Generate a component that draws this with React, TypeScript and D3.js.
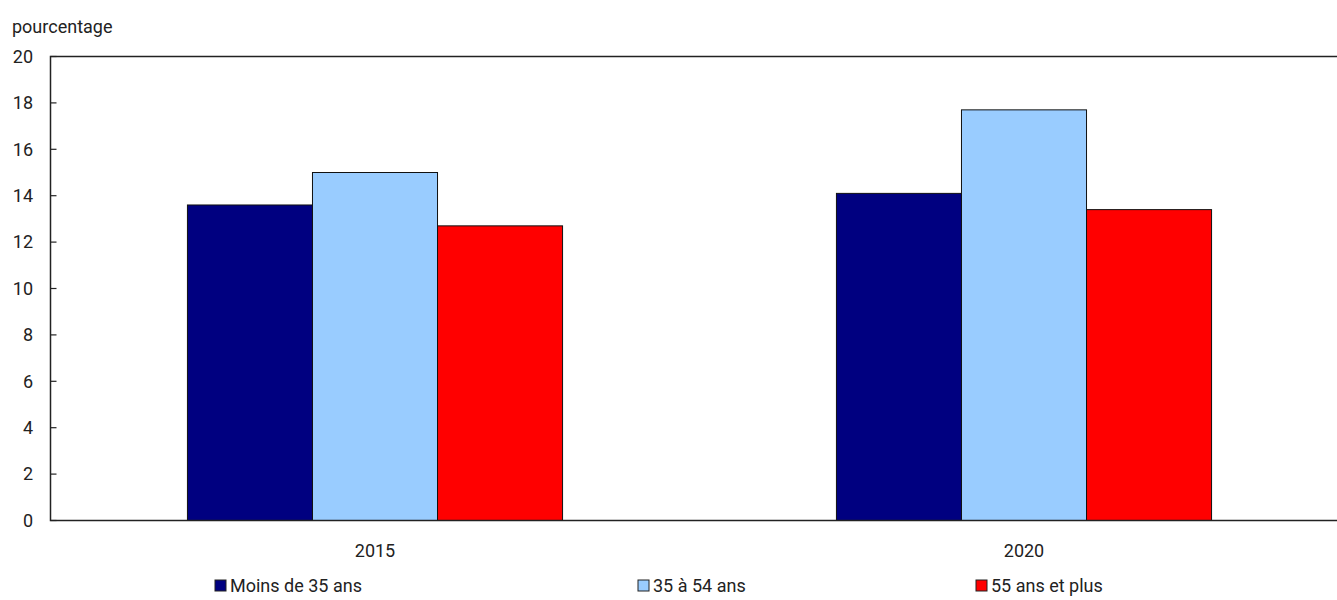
import * as d3 from 'd3';

const years = ['2015', '2020'];
const groups = ['Moins de 35 ans', '35 à 54 ans', '55 ans et plus'];
const colors = ['#000080', '#99CCFF', '#FF0000'];
const values: Record<string, number[]> = {
    'Moins de 35 ans': [13.6, 14.1],
    '35 à 54 ans': [15.0, 17.7],
    '55 ans et plus': [12.7, 13.4]
};
const yTicks = [0, 2, 4, 6, 8, 10, 12, 14, 16, 18, 20];
const legendX = [215, 638, 976];

const font = 'Roboto, "Liberation Sans", sans-serif';

function BarChart({
    width = 1337,
    height = 600,
    marginTop = 56.5,
    marginLeft = 50.5,
    plotWidth = 1298,
    plotBottom = 520.5
    }) {
    const x = d3.scaleBand(years, [marginLeft, marginLeft + plotWidth]);
    const inner = d3.scaleBand(groups, [0, x.bandwidth() * 0.578]);
    const y = d3.scaleLinear([0, 20], [plotBottom, marginTop]);
    const groupOffset = (x.bandwidth() - inner.range()[1]) / 2;

    return (
        <svg width={width} height={height} style={{ display: 'block', position: 'absolute', left: 0, top: 0 }}
            fontFamily={font}>
        <text x={12} y={33} fontSize={18} fill="#222">pourcentage</text>
        {groups.map((g, gi) => (
            <g key={g} fill={colors[gi]} stroke="#111" strokeWidth={1}>
            {years.map((yr, i) => (
                <rect key={yr}
                    x={(x(yr) ?? 0) + groupOffset + (inner(g) ?? 0)}
                    y={y(values[g][i])}
                    width={inner.bandwidth()}
                    height={y(0) - y(values[g][i])} />
            ))}
            </g>
        ))}
        <rect x={marginLeft} y={marginTop} width={plotWidth} height={plotBottom - marginTop}
            fill="none" stroke="#222" strokeWidth={1.5} />
        <g fontSize={18} fill="#222" textAnchor="end">
            {yTicks.map(t => (
            <g key={t}>
                <line x1={marginLeft} x2={marginLeft + 6} y1={y(t)} y2={y(t)} stroke="#222" strokeWidth={1.2} />
                <text x={33} y={y(t)} dy="0.35em">{t}</text>
            </g>
            ))}
        </g>
        <g fontSize={18} fill="#222" textAnchor="middle">
            {years.map(yr => (
            <text key={yr} x={(x(yr) ?? 0) + x.bandwidth() / 2} y={557}>{yr}</text>
            ))}
        </g>
        <g fontSize={18} fill="#222">
            {groups.map((g, gi) => (
            <g key={g} transform={`translate(${legendX[gi]},580)`}>
                <rect x={0} y={0} width={11} height={11} fill={colors[gi]} stroke="#222" strokeWidth={1} />
                <text x={15} y={12}>{g}</text>
            </g>
            ))}
        </g>
        </svg>
    );
}

function App() {
    return <BarChart />;
}

export default App;
